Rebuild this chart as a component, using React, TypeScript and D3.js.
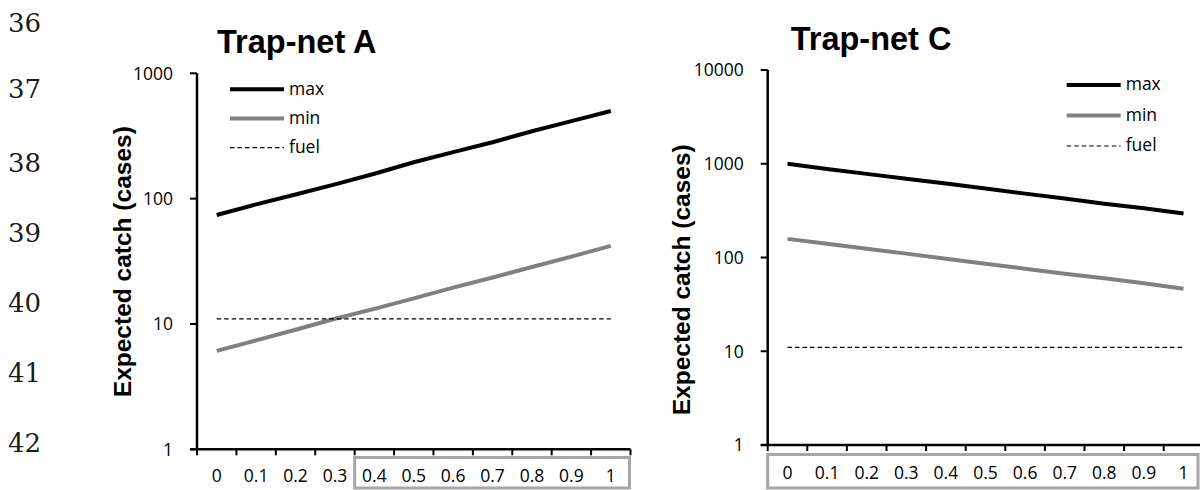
import React from 'react';
import * as d3 from 'd3';

const categories = ['0', '0.1', '0.2', '0.3', '0.4', '0.5', '0.6', '0.7', '0.8', '0.9', '1'];

const maxA = [74, 90, 108, 130, 158, 195, 235, 282, 345, 415, 500];
const minA = [6.1, 7.4, 9, 11, 13.2, 16, 19.5, 23.5, 28.5, 34.5, 42];
const fuelA = [11, 11, 11, 11, 11, 11, 11, 11, 11, 11, 11];

const maxC = [1000, 880, 780, 690, 615, 545, 480, 425, 375, 335, 295];
const minC = [158, 140, 124, 110, 97, 86, 76, 67, 60, 53, 46.5];
const fuelC = [11, 11, 11, 11, 11, 11, 11, 11, 11, 11, 11];

const yTicksA = [1, 10, 100, 1000];
const yTicksC = [1, 10, 100, 1000, 10000];

const legendLabels = ['max', 'min', 'fuel'];
const lineNumbers = ['36', '37', '38', '39', '40', '41', '42'];

const TICK_FONT = '"Open Sans", "Noto Sans", sans-serif';
const BOLD_FONT = '"Liberation Sans", Arial, sans-serif';

type PanelProps = {
  title: string;
  titleX: number;
  titleY: number;
  x0: number;
  x1: number;
  yTop: number;
  yBottom: number;
  yMax: number;
  yTicks: number[];
  maxS: number[];
  minS: number[];
  fuelS: number[];
  legendX: number;
  legendY: number;
  legendGap: number;
  axisTitleX: number;
  axisTitleY: number;
  boxStart: number;
  boxX1: number;
  boxY0: number;
  boxY1: number;
  xLabelY: number;
  drawLastTick: boolean;
};

function Panel(p: PanelProps) {
  const x = d3.scaleBand<string>().domain(categories).range([p.x0, p.x1]).padding(0);
  const y = d3.scaleLog().domain([1, p.yMax]).range([p.yBottom, p.yTop]);
  const line = d3
    .line<number>()
    .x((_, i) => (x(categories[i]) as number) + x.bandwidth() / 2)
    .y((d) => y(d));
  const styles = [
    { stroke: '#000', width: 4, dash: undefined as string | undefined },
    { stroke: '#808080', width: 4, dash: undefined as string | undefined },
    { stroke: '#000', width: 1.2, dash: '4.5,3' },
  ];
  const series = [p.maxS, p.minS, p.fuelS];
  const boundaries = categories.map((c) => x(c) as number);
  if (p.drawLastTick) boundaries.push(p.x1);
  const boxX0 = x(categories[p.boxStart]) as number;
  return (
    <g>
      <text x={p.titleX} y={p.titleY} fontFamily={BOLD_FONT} fontWeight="bold" fontSize={32.5} fill="#000">
        {p.title}
      </text>
      <text
        transform={`translate(${p.axisTitleX},${p.axisTitleY}) rotate(-90)`}
        textAnchor="middle"
        fontFamily={BOLD_FONT}
        fontWeight="bold"
        fontSize={24.5}
        fill="#000"
      >
        Expected catch (cases)
      </text>
      <rect
        x={boxX0}
        y={p.boxY0}
        width={p.boxX1 - boxX0}
        height={p.boxY1 - p.boxY0}
        fill="none"
        stroke="#a6a6a6"
        strokeWidth={3}
      />
      {series.map((s, i) => (
        <path
          key={i}
          d={line(s) as string}
          fill="none"
          stroke={styles[i].stroke}
          strokeWidth={styles[i].width}
          strokeDasharray={styles[i].dash}
        />
      ))}
      <line x1={p.x0} x2={p.x0} y1={p.yTop} y2={p.yBottom} stroke="#000" strokeWidth={2.5} />
      {p.yTicks.map((t) => (
        <g key={t}>
          <line x1={p.x0 - 7} x2={p.x0} y1={y(t)} y2={y(t)} stroke="#000" strokeWidth={2} />
          <text
            x={p.x0 - 24}
            y={y(t)}
            dy="0.36em"
            textAnchor="end"
            fontFamily={TICK_FONT}
            fontSize={17.5}
            fill="#000"
          >
            {t}
          </text>
        </g>
      ))}
      <line x1={p.x0 - 7} x2={p.x1} y1={p.yBottom} y2={p.yBottom} stroke="#000" strokeWidth={2.5} />
      {boundaries.map((bx, i) => (
        <line key={i} x1={bx} x2={bx} y1={p.yBottom} y2={p.yBottom + 6} stroke="#000" strokeWidth={2} />
      ))}
      {categories.map((c) => (
        <text
          key={c}
          x={(x(c) as number) + x.bandwidth() / 2}
          y={p.xLabelY}
          textAnchor="middle"
          fontFamily={TICK_FONT}
          fontSize={17.5}
          fill="#000"
        >
          {c}
        </text>
      ))}
      {legendLabels.map((lab, i) => (
        <g key={lab}>
          <line
            x1={p.legendX}
            x2={p.legendX + 54}
            y1={p.legendY + i * p.legendGap}
            y2={p.legendY + i * p.legendGap}
            stroke={styles[i].stroke}
            strokeWidth={styles[i].width}
            strokeDasharray={styles[i].dash}
          />
          <text
            x={p.legendX + 59}
            y={p.legendY + i * p.legendGap}
            dy="0.3em"
            fontFamily={TICK_FONT}
            fontSize={17.5}
            fill="#000"
          >
            {lab}
          </text>
        </g>
      ))}
    </g>
  );
}

const lineNumberBaselines = [31.7, 98.3, 171.7, 241.7, 311.7, 381.7, 451.7];

export default function App() {
  return (
    <svg
      width={1200}
      height={490}
      viewBox="0 0 1200 490"
      style={{ position: 'absolute', left: 0, top: 0, background: '#fff' }}
    >
      <rect x={0} y={0} width={1200} height={490} fill="#fff" />
      {lineNumbers.map((n, i) => (
        <text key={n} x={8} y={lineNumberBaselines[i]} fontFamily='"DejaVu Serif", serif' fontSize={26} fill="#1a1a1a">
          {n}
        </text>
      ))}
      <Panel
        title="Trap-net A"
        titleX={217}
        titleY={53.3}
        x0={197}
        x1={630.5}
        yTop={73.3}
        yBottom={449.3}
        yMax={1000}
        yTicks={yTicksA}
        maxS={maxA}
        minS={minA}
        fuelS={fuelA}
        legendX={230}
        legendY={89.3}
        legendGap={29.2}
        axisTitleX={131}
        axisTitleY={261.7}
        boxStart={4}
        boxX1={629.5}
        boxY0={457.5}
        boxY1={488}
        xLabelY={481.7}
        drawLastTick={true}
      />
      <Panel
        title="Trap-net C"
        titleX={790.7}
        titleY={50}
        x0={767.7}
        x1={1203.3}
        yTop={70}
        yBottom={445}
        yMax={10000}
        yTicks={yTicksC}
        maxS={maxC}
        minS={minC}
        fuelS={fuelC}
        legendX={1066.7}
        legendY={85}
        legendGap={30.5}
        axisTitleX={690}
        axisTitleY={279.8}
        boxStart={0}
        boxX1={1198}
        boxY0={454.5}
        boxY1={488}
        xLabelY={479}
        drawLastTick={false}
      />
    </svg>
  );
}
